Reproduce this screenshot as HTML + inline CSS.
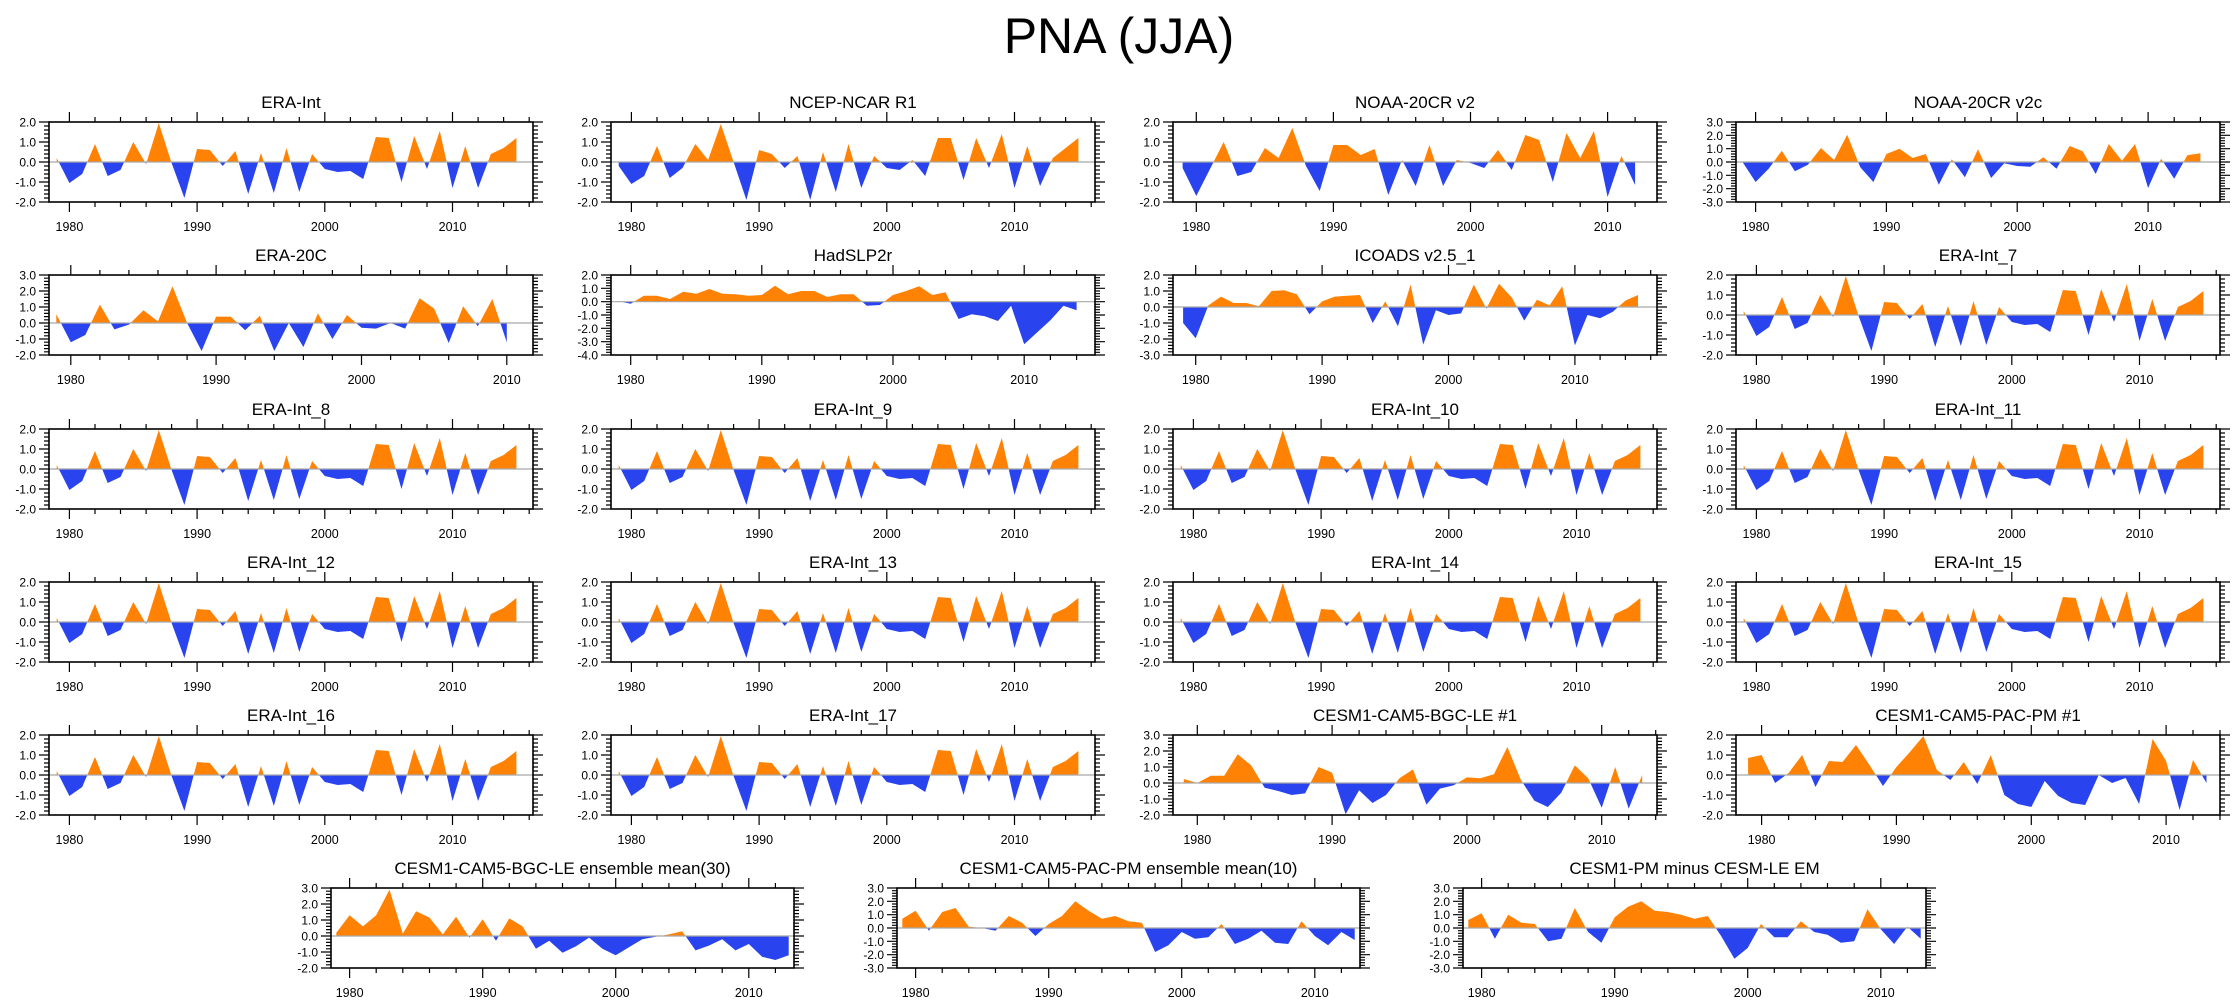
<!DOCTYPE html>
<html><head><meta charset="utf-8">
<style>
html,body{margin:0;padding:0;background:#fff;}
svg{display:block;font-family:"Liberation Sans",Arial,sans-serif;}
</style></head>
<body>
<svg id="fig" width="2238" height="1005" viewBox="0 0 2238 1005" xmlns="http://www.w3.org/2000/svg">
<text x="1119" y="53" text-anchor="middle" font-size="50">PNA (JJA)</text>
</svg>
<script>
// ---- data (PNA index values, start year 1979) ----
const eraInt   = [0.2,-1.05,-0.6,0.9,-0.7,-0.4,1.0,-0.1,1.95,-0.05,-1.8,0.65,0.6,-0.2,0.55,-1.6,0.45,-1.55,0.7,-1.5,0.4,-0.35,-0.5,-0.45,-0.85,1.25,1.2,-1.0,1.3,-0.35,1.55,-1.3,0.8,-1.3,0.4,0.7,1.2];
const ncepR1   = [-0.2,-1.1,-0.7,0.8,-0.8,-0.3,0.9,0.1,1.9,0.0,-1.9,0.6,0.4,-0.3,0.3,-1.9,0.5,-1.5,0.9,-1.3,0.3,-0.3,-0.4,0.1,-0.7,1.2,1.2,-0.9,1.2,-0.3,1.4,-1.3,0.8,-1.2,0.2,0.7,1.2];
const noaaV2   = [-0.3,-1.7,-0.35,1.0,-0.7,-0.5,0.7,0.2,1.7,-0.2,-1.45,0.85,0.85,0.35,0.65,-1.65,0.1,-1.2,0.85,-1.2,0.1,-0.05,-0.3,0.6,-0.4,1.35,1.1,-1.0,1.45,0.2,1.55,-1.75,0.3,-1.15];
const noaaV2c  = [0.0,-1.5,-0.5,0.85,-0.7,-0.2,1.05,0.15,2.05,-0.4,-1.5,0.6,1.0,0.3,0.6,-1.7,0.2,-1.15,0.95,-1.2,-0.1,-0.3,-0.35,0.35,-0.5,1.2,0.8,-0.9,1.35,0.1,1.35,-1.95,0.25,-1.25,0.5,0.65];
const era20c   = [0.55,-1.2,-0.75,1.15,-0.4,-0.1,0.8,0.1,2.3,0.0,-1.75,0.4,0.4,-0.45,0.45,-1.75,0.0,-1.5,0.6,-1.0,0.5,-0.3,-0.35,0.0,-0.35,1.55,0.9,-1.25,1.05,-0.2,1.5,-1.2];
const hadslp2r = [0.05,-0.15,0.45,0.45,0.2,0.75,0.6,0.95,0.6,0.55,0.45,0.5,1.2,0.55,0.8,0.8,0.35,0.55,0.55,-0.3,-0.25,0.5,0.8,1.15,0.5,0.7,-1.3,-0.95,-1.1,-1.45,-0.3,-3.2,-2.3,-1.4,-0.3,-0.65];
const icoads   = [-1.0,-1.95,0.1,0.65,0.25,0.25,0.05,1.0,1.05,0.8,-0.45,0.35,0.65,0.7,0.75,-1.0,0.35,-1.2,1.4,-2.35,-0.2,-0.5,-0.4,1.4,-0.1,1.45,0.6,-0.85,0.45,0.1,1.3,-2.4,-0.5,-0.7,-0.3,0.4,0.75];
const bgcLe1   = [0.25,0.0,0.45,0.45,1.8,1.1,-0.3,-0.5,-0.75,-0.65,1.0,0.65,-1.95,-0.45,-1.25,-0.75,0.3,0.85,-1.35,-0.35,-0.15,0.35,0.3,0.55,2.25,0.2,-1.1,-1.5,-0.6,1.1,0.3,-1.55,1.0,-1.6,0.5];
const pacPm1   = [0.85,1.0,-0.4,0.1,1.0,-0.6,0.7,0.65,1.5,0.5,-0.55,0.4,1.15,1.95,0.25,-0.25,0.65,-0.45,1.0,-1.0,-1.45,-1.6,-0.3,-1.05,-1.4,-1.5,0.0,-0.4,-0.15,-1.45,1.8,0.7,-1.75,0.75,-0.4];
const bgcLeEm  = [0.2,1.3,0.6,1.3,2.9,0.15,1.55,1.15,0.1,1.2,-0.1,1.05,-0.3,1.1,0.6,-0.8,-0.3,-1.05,-0.65,-0.1,-0.8,-1.2,-0.7,-0.2,-0.05,0.1,0.3,-0.9,-0.6,-0.2,-0.9,-0.5,-1.3,-1.5,-1.2];
const pacPmEm  = [0.7,1.3,-0.2,1.2,1.5,0.1,0.0,-0.2,0.9,0.4,-0.6,0.3,0.9,2.0,1.3,0.7,0.9,0.5,0.4,-1.8,-1.3,-0.3,-0.8,-0.7,0.3,-1.2,-0.8,-0.2,-1.1,-1.2,0.5,-0.6,-1.3,-0.3,-0.9];
const pmMinusLe= [0.6,1.1,-0.8,1.0,0.4,0.3,-1.0,-0.8,1.5,-0.3,-1.1,0.8,1.6,2.0,1.3,1.2,1.0,0.7,0.9,-0.6,-2.3,-1.5,0.3,-0.7,-0.7,0.5,-0.3,-0.5,-1.1,-1.0,1.4,-0.1,-1.2,0.1,-0.8];
const startYear = 1979;
const yearTicks = [1980,1990,2000,2010];

// ---- panel layout ----
const colX=[49,611,1173,1736], W=484, H=80;
const rowY=[122,275,429,582,735];
const panels=[
 {t:"ERA-Int",d:eraInt,c:0,r:0,x0:1978.4,x1:2016.3,y0:-2,y1:2},
 {t:"NCEP-NCAR R1",d:ncepR1,c:1,r:0,x0:1978.4,x1:2016.3,y0:-2,y1:2},
 {t:"NOAA-20CR v2",d:noaaV2,c:2,r:0,x0:1978.3,x1:2013.6,y0:-2,y1:2},
 {t:"NOAA-20CR v2c",d:noaaV2c,c:3,r:0,x0:1978.5,x1:2015.5,y0:-3,y1:3},
 {t:"ERA-20C",d:era20c,c:0,r:1,x0:1978.5,x1:2011.8,y0:-2,y1:3},
 {t:"HadSLP2r",d:hadslp2r,c:1,r:1,x0:1978.5,x1:2015.4,y0:-4,y1:2},
 {t:"ICOADS v2.5_1",d:icoads,c:2,r:1,x0:1978.2,x1:2016.5,y0:-3,y1:2},
 {t:"ERA-Int_7",d:eraInt,c:3,r:1,x0:1978.4,x1:2016.3,y0:-2,y1:2},
 {t:"ERA-Int_8",d:eraInt,c:0,r:2,x0:1978.4,x1:2016.3,y0:-2,y1:2},
 {t:"ERA-Int_9",d:eraInt,c:1,r:2,x0:1978.4,x1:2016.3,y0:-2,y1:2},
 {t:"ERA-Int_10",d:eraInt,c:2,r:2,x0:1978.4,x1:2016.3,y0:-2,y1:2},
 {t:"ERA-Int_11",d:eraInt,c:3,r:2,x0:1978.4,x1:2016.3,y0:-2,y1:2},
 {t:"ERA-Int_12",d:eraInt,c:0,r:3,x0:1978.4,x1:2016.3,y0:-2,y1:2},
 {t:"ERA-Int_13",d:eraInt,c:1,r:3,x0:1978.4,x1:2016.3,y0:-2,y1:2},
 {t:"ERA-Int_14",d:eraInt,c:2,r:3,x0:1978.4,x1:2016.3,y0:-2,y1:2},
 {t:"ERA-Int_15",d:eraInt,c:3,r:3,x0:1978.4,x1:2016.3,y0:-2,y1:2},
 {t:"ERA-Int_16",d:eraInt,c:0,r:4,x0:1978.4,x1:2016.3,y0:-2,y1:2},
 {t:"ERA-Int_17",d:eraInt,c:1,r:4,x0:1978.4,x1:2016.3,y0:-2,y1:2},
 {t:"CESM1-CAM5-BGC-LE #1",d:bgcLe1,c:2,r:4,x0:1978.2,x1:2014.1,y0:-2,y1:3},
 {t:"CESM1-CAM5-PAC-PM #1",d:pacPm1,c:3,r:4,x0:1978.1,x1:2014.0,y0:-2,y1:2},
 {t:"CESM1-CAM5-BGC-LE ensemble mean(30)",d:bgcLeEm,X:331,Y:888,w:463,x0:1978.6,x1:2013.4,y0:-2,y1:3},
 {t:"CESM1-CAM5-PAC-PM ensemble mean(10)",d:pacPmEm,X:897,Y:888,w:463,x0:1978.6,x1:2013.4,y0:-3,y1:3},
 {t:"CESM1-PM minus CESM-LE EM",d:pmMinusLe,X:1463,Y:888,w:463,x0:1978.6,x1:2013.4,y0:-3,y1:3}
];

const NS="http://www.w3.org/2000/svg";
const svg=document.getElementById('fig');
const defs=document.createElementNS(NS,'defs');svg.appendChild(defs);
function mk(tag,attrs,parent){const e=document.createElementNS(NS,tag);for(const k in attrs)e.setAttribute(k,attrs[k]);(parent||svg).appendChild(e);return e;}

panels.forEach((p,i)=>{
  const L=p.X!==undefined?p.X:colX[p.c];
  const T=p.Y!==undefined?p.Y:rowY[p.r];
  const w=p.w||W;
  const sx=v=>L+(v-p.x0)/(p.x1-p.x0)*w;
  const sy=v=>T+(p.y1-v)/(p.y1-p.y0)*H;
  const g=mk('g',{});
  
  
  const title=mk('text',{x:L+w/2,y:T-14,'text-anchor':'middle','font-size':17},g);
  title.textContent=p.t;
  
  
  const z=sy(0);
  let pts=`${sx(startYear).toFixed(1)},${z.toFixed(1)} `;
  p.d.forEach((v,k)=>{pts+=`${sx(startYear+k).toFixed(1)},${sy(v).toFixed(1)} `;});
  pts+=`${sx(startYear+p.d.length-1).toFixed(1)},${z.toFixed(1)}`;
  const cpU=mk('clipPath',{id:'cu'+i},defs);mk('rect',{x:L,y:T,width:w,height:z-T},cpU);
  const cpD=mk('clipPath',{id:'cd'+i},defs);mk('rect',{x:L,y:z,width:w,height:T+H-z},cpD);
  const pos=mk('polygon',{points:pts,fill:'#ff8205','clip-path':`url(#cu${i})`},g);
  
  
  const neg=mk('polygon',{points:pts,fill:'#2944ee','clip-path':`url(#cd${i})`},g);
  
  
  const zl=mk('line',{x1:L,x2:L+w,y1:z,y2:z,stroke:'#a8a8a8','stroke-width':1.2},g);
  
  
  const fr=mk('rect',{x:L,y:T,width:w,height:H,fill:'none',stroke:'#000','stroke-width':1.6},g);
  
  
  let tk='';
  for(let yr=Math.ceil(p.x0);yr<=p.x1;yr++){
    if(yr%2!==0)continue;
    const x=sx(yr).toFixed(1),len=yr%10===0?10:5;
    tk+=`M${x},${T}v${-len}M${x},${T+H}v${len}`;
  }
  for(let v=p.y0;v<=p.y1+1e-6;v+=0.2){
    const y=sy(v).toFixed(1);const maj=Math.abs(v-Math.round(v))<1e-6;const len=maj?10:5;
    tk+=`M${L},${y}h${-len}M${L+w},${y}h${len}`;
  }
  const tp=mk('path',{d:tk,stroke:'#000','stroke-width':1.2,fill:'none'},g);
  
  
  yearTicks.forEach(yr=>{
    if(yr<p.x0||yr>p.x1)return;
    const t=mk('text',{x:sx(yr),y:T+H+29,'text-anchor':'middle','font-size':12.5},g);
    t.textContent=String(yr);
    
    
  });
  for(let v=p.y1;v>=p.y0;v--){
    const t=mk('text',{x:L-13,y:sy(v)+4.5,'text-anchor':'end','font-size':12},g);
    t.textContent=v.toFixed(1);
    
    
  }
});
</script>
</body></html>
